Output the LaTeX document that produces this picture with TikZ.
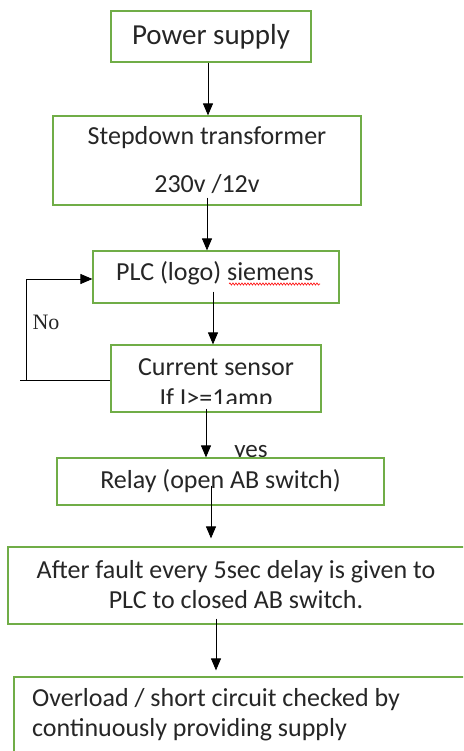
\documentclass[tikz,border=0pt]{standalone}
\usepackage{fontspec}
\setmainfont{Carlito}
\newfontfamily\serifno{Liberation Serif}
\usetikzlibrary{arrows.meta,decorations.pathmorphing}
\definecolor{boxgreen}{RGB}{112,173,71}
\begin{document}
\begin{tikzpicture}[x=1pt,y=-1pt,
  box/.style={draw=boxgreen, fill=white, line width=1.2pt, inner sep=0pt, align=center,
    font=\fontsize{26}{30}\selectfont, text=black!85},
  arr/.style={draw=black, line width=0.9pt, -{Triangle[width=10pt,length=12pt]}},
  plain/.style={draw=black, line width=0.9pt},
  lbl/.style={inner sep=0pt, text=black!85}]
\useasboundingbox (0,0) rectangle (463,751);
\clip (0,0) rectangle (463,751);
\fill[white] (0,0) rectangle (463,751);

% labels drawn first (boxes cover their overflow)
\node[lbl, font=\fontsize{25}{30}\selectfont, anchor=base] (yes) at (251,457) {yes};

% boxes
\node[box, minimum width=200pt, minimum height=51pt, font=\fontsize{29}{30}\selectfont] (ps) at (211,36.5) {Power supply};
\node[box, minimum width=308pt, minimum height=89pt] (st) at (207,160.5) {Stepdown transformer\\[18pt]230v /12v};
\node[box, minimum width=246pt, minimum height=52pt] (plc) at (216,277) {};
\node[lbl, font=\fontsize{26}{30}\selectfont] (plctext) at (215,273) {PLC (logo) siemens};
\draw[red, line width=0.6pt, decorate, decoration={snake, amplitude=1.1pt, segment length=3pt}] (229,284) -- (320,284);
\node[box, minimum width=210pt, minimum height=67pt] (cs) at (216,378.5) {};
\begin{scope}
  \clip (112,346) rectangle (320,403);
  \node[lbl, align=center, font=\fontsize{26}{31}\selectfont] (cstext) at (216,385) {Current sensor\\If I>=1amp};
\end{scope}
\node[box, minimum width=327pt, minimum height=47pt] (relay) at (220.5,481.5) {Relay (open AB switch)};
\node[box, minimum width=462pt, minimum height=77pt] (fault) at (239,585.5) {};
\node[lbl, align=center, font=\fontsize{26}{30}\selectfont] (faulttext) at (236,585) {After fault every 5sec delay is given to\\PLC to closed AB switch.};
\node[box, minimum width=456pt, minimum height=114pt] (over) at (242,734) {};
\node[lbl, align=left, anchor=north west, font=\fontsize{26}{30}\selectfont] (overtext) at (32,688) {Overload / short circuit checked by\\continuously providing supply};

% no-loop label
\node[lbl, font=\serifno\fontsize{22}{24}\selectfont] (no) at (46,322) {No};

% connectors
\draw[arr] ([xshift=-3pt]ps.south) -- ([xshift=-3pt]ps.south |- st.north);
\draw[arr] ([yshift=8pt]st.south) -- (st.south |- plc.north);
\draw[arr] ([xshift=-3pt,yshift=12pt]plc.south) -- ([xshift=-3pt]plc.south |- cs.north);
\draw[arr] ([xshift=-10pt,yshift=4pt]cs.south) -- ([xshift=-10pt]cs.south |- relay.north);
\draw[arr, shorten >=8pt] ([xshift=-9.5pt,yshift=20pt]relay.south) -- ([xshift=-9.5pt]relay.south |- fault.north);
\draw[arr, shorten >=6pt] ([xshift=-23pt,yshift=6pt]fault.south) -- ([xshift=-23pt]fault.south |- over.north);

\coordinate (noend) at (20,380);
\coordinate (nocorner) at (26,380);
\draw[plain] ([yshift=-1.5pt]cs.west) -- (noend);
\draw[arr] (nocorner) |- ([yshift=-2pt]plc.west);
\end{tikzpicture}
\end{document}
